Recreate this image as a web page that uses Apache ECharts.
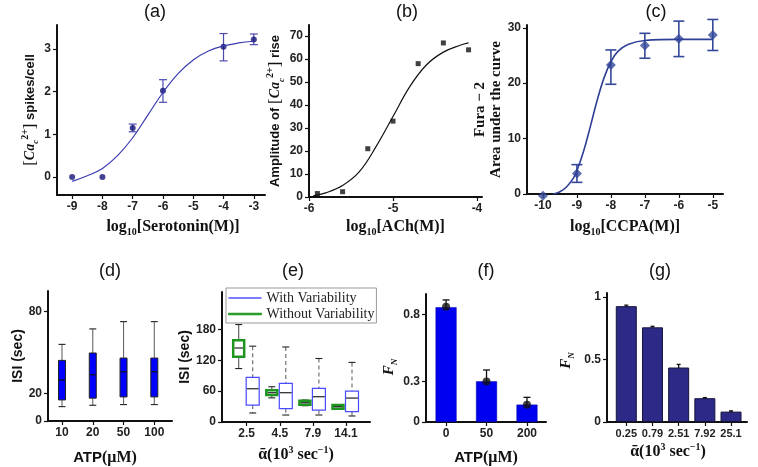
<!DOCTYPE html>
<html><head><meta charset="utf-8">
<script src="https://cdn.jsdelivr.net/npm/echarts@6/dist/echarts.min.js"></script>
<style>html,body{margin:0;padding:0;background:#fff}#c{width:758px;height:467px}</style>
</head><body><div id="c"></div>
<script>
// ---------------- data ----------------
const aX = [-9, -8, -7, -6, -4, -3];
const aY = [0, 0, 1.15, 2.02, 3.05, 3.22];
const aLo = [null, null, 1.06, 1.75, 2.72, 3.10];
const aHi = [null, null, 1.24, 2.28, 3.36, 3.35];
const aFitX = [-9, -8.5, -8, -7.5, -7, -6.5, -6, -5.5, -5, -4.5, -4, -3.5, -3];
const aFitY = [-0.1, 0.03, 0.2, 0.5, 0.92, 1.45, 1.98, 2.42, 2.74, 2.95, 3.07, 3.14, 3.18];
const aXTicks = [-9, -8, -7, -6, -5, -4, -3];
const aYTicks = [0, 1, 2, 3];

const bX = [-5.9, -5.6, -5.3, -5.0, -4.7, -4.4, -4.1];
const bY = [1.5, 2.3, 21, 33, 58, 67, 64];
const bFitX = [-5.95, -5.8, -5.6, -5.4, -5.2, -5.0, -4.8, -4.6, -4.4, -4.2, -4.1];
const bFitY = [0.5, 1.8, 5, 11, 22, 35, 48, 57.5, 63, 66, 67];
const bXTicks = [-6, -5, -4];
const bYTicks = [0, 10, 20, 30, 40, 50, 60, 70];

const cX = [-10, -9, -8, -7, -6, -5];
const cY = [-0.3, 3.7, 23.3, 26.8, 28, 28.7];
const cLo = [null, 2.1, 19.8, 24.5, 24.8, 25.9];
const cHi = [null, 5.3, 26.0, 29.0, 31.2, 31.5];
const cFitX = [-9.7, -9.5, -9.3, -9.1, -9.0, -8.8, -8.6, -8.4, -8.2, -8.0, -7.8, -7.5, -7.0, -6.0, -5.0];
const cFitY = [0, 0.4, 1.3, 2.9, 4.2, 7.8, 12.3, 17, 21, 23.9, 25.7, 27, 27.7, 27.9, 27.9];
const cXTicks = [-10, -9, -8, -7, -6, -5];
const cYTicks = [0, 10, 20, 30];

const dCats = ['10', '20', '50', '100'];
// [min, Q1, median, Q3, max]
const dBox = [[10.5, 15.4, 29.9, 44.3, 56], [11.5, 16.7, 33.8, 49.7, 67.3], [12, 17.6, 36, 46, 72.6], [12, 17.6, 36, 46, 72.6]];
const dYTicks = [0, 20, 80];

const eCats = ['2.5', '4.5', '7.9', '14.1'];
const eWith = [[17.5, 33, 64.7, 86.7, 147.6], [13.6, 26, 57, 75, 146], [13.6, 23.3, 49.2, 65.4, 123.6], [11.7, 20, 46.6, 60, 116]];
const eWithout = [[104, 127, 144, 159, 189.7], [47, 52.4, 57, 62, 68.6], [31.7, 33.7, 37.5, 41.4, 42.7], [24.6, 25.9, 29.8, 33, 33]];
const eYTicks = [0, 60, 120, 180];

const fCats = ['0', '50', '200'];
const fBar = [0.852, 0.302, 0.129];
const fMean = [0.855, 0.30, 0.128];
const fLo = [0.79, 0.218, 0.064];
const fHi = [0.906, 0.386, 0.183];
const fYTicks = [0, 0.3, 0.8];

const gCats = ['0.25', '0.79', '2.51', '7.92', '25.1'];
const gBar = [0.925, 0.756, 0.435, 0.19, 0.083];
const gLo = [0.917, 0.748, 0.41, 0.185, 0.077];
const gHi = [0.933, 0.764, 0.46, 0.195, 0.089];
const gYTicks = [0, 0.5, 1];

// ---------------- helpers ----------------
const idx = (arr) => arr.map((_, i) => i);
const pairs = (xs, ys) => xs.map((x, i) => [x, ys[i]]);
const errRows = (xs, lo, hi) => xs.map((x, i) => [x, lo[i], hi[i]]).filter(r => r[1] != null);
const boxRows = (rows) => rows.map((r, i) => [i].concat(r));

const tickFont = {fontFamily: 'Liberation Sans', fontWeight: 'bold', fontSize: 12, color: '#222'};
const SERIF = 'Liberation Serif';
const richBase = {
  n: {fontFamily: SERIF, fontWeight: 'bold', fontSize: 16, color: '#111', lineHeight: 20},
  sb: {fontFamily: SERIF, fontWeight: 'bold', fontSize: 10, color: '#111', lineHeight: 9, verticalAlign: 'bottom'},
  sp: {fontFamily: SERIF, fontWeight: 'bold', fontSize: 10, color: '#111', lineHeight: 9, verticalAlign: 'top'},
  t: {fontFamily: 'Liberation Sans', fontWeight: 'bold', fontSize: 13, color: '#111', lineHeight: 20},
  br: {fontFamily: SERIF, fontSize: 17, color: '#111', lineHeight: 20},
  ci: {fontFamily: SERIF, fontStyle: 'italic', fontWeight: 'bold', fontSize: 14, color: '#111', lineHeight: 20},
  cs: {fontFamily: SERIF, fontStyle: 'italic', fontWeight: 'bold', fontSize: 9, color: '#111', lineHeight: 8, verticalAlign: 'bottom'},
  fi: {fontFamily: SERIF, fontStyle: 'italic', fontWeight: 'bold', fontSize: 15, color: '#111', lineHeight: 20},
  fs: {fontFamily: SERIF, fontStyle: 'italic', fontWeight: 'bold', fontSize: 9, color: '#111', lineHeight: 8, verticalAlign: 'bottom'},
  a: {fontFamily: 'Liberation Sans', fontWeight: 'bold', fontSize: 15, color: '#111', lineHeight: 20},
  m: {fontFamily: SERIF, fontWeight: 'bold', fontSize: 16, color: '#111', lineHeight: 20}
};
const CA = '{br|[}{ci|Ca}{cs|c}{sp|2+}{br|]}';

function axis(o) {
  return {
    type: 'value', gridIndex: o.g, min: o.min, max: o.max,
    axisLine: {show: true, onZero: false, lineStyle: {color: '#111', width: 2}},
    axisTick: {show: true, length: 4, customValues: o.ticks, lineStyle: {color: '#111', width: 1.2}},
    axisLabel: Object.assign({customValues: o.ticks, margin: 6, formatter: o.fmt}, tickFont, o.font || {}),
    splitLine: {show: false},
    name: o.name, nameLocation: 'middle', nameGap: o.gap,
    nameTextStyle: Object.assign({rich: richBase}, o.nts || {})
  };
}
const catFmt = (cats) => (v) => cats[Math.round(v)];

function errRender(capW, color, lw) {
  return function (params, api) {
    const x = api.value(0);
    const lo = api.coord([x, api.value(1)]);
    const hi = api.coord([x, api.value(2)]);
    const cx = lo[0];
    const st = {stroke: color, lineWidth: lw};
    return {type: 'group', children: [
      {type: 'line', shape: {x1: cx, y1: lo[1], x2: cx, y2: hi[1]}, style: st},
      {type: 'line', shape: {x1: cx - capW / 2, y1: lo[1], x2: cx + capW / 2, y2: lo[1]}, style: st},
      {type: 'line', shape: {x1: cx - capW / 2, y1: hi[1], x2: cx + capW / 2, y2: hi[1]}, style: st}
    ]};
  };
}
function boxRender(offset, w, capW, s) {
  return function (params, api) {
    const x = api.value(0);
    const c = (d) => api.coord([x, api.value(d)]);
    const pMin = c(1), pQ1 = c(2), pMed = c(3), pQ3 = c(4), pMax = c(5);
    const cx = pMin[0] + offset;
    const ws = {stroke: s.whisker, lineWidth: 1.1, lineDash: s.dash || null};
    const cs = {stroke: s.cap, lineWidth: 1.1};
    return {type: 'group', children: [
      {type: 'line', shape: {x1: cx, y1: pMax[1], x2: cx, y2: pQ3[1]}, style: ws},
      {type: 'line', shape: {x1: cx, y1: pQ1[1], x2: cx, y2: pMin[1]}, style: ws},
      {type: 'line', shape: {x1: cx - capW / 2, y1: pMax[1], x2: cx + capW / 2, y2: pMax[1]}, style: cs},
      {type: 'line', shape: {x1: cx - capW / 2, y1: pMin[1], x2: cx + capW / 2, y2: pMin[1]}, style: cs},
      {type: 'rect', shape: {x: cx - w / 2, y: pQ3[1], width: w, height: pQ1[1] - pQ3[1]},
        style: {fill: s.fill, stroke: s.border, lineWidth: s.bw}},
      {type: 'line', shape: {x1: cx - w / 2 + s.bw / 2, y1: pMed[1], x2: cx + w / 2 - s.bw / 2, y2: pMed[1]},
        style: {stroke: s.median, lineWidth: 1.2}}
    ]};
  };
}

const titles = [['(a)', 155, 12], ['(b)', 407, 12], ['(c)', 656, 12], ['(d)', 110, 271], ['(e)', 293, 271], ['(f)', 486, 271], ['(g)', 660, 271]];

const option = {
  animation: false,
  backgroundColor: '#fff',
  graphic: titles.map(t => ({type: 'text', x: t[1], y: t[2],
    style: {text: t[0], font: '18px "Liberation Sans"', fill: '#111', align: 'center', verticalAlign: 'middle', textAlign: 'center', textVerticalAlign: 'middle'}})),
  grid: [
    {left: 57, top: 25, width: 208, height: 170, outerBoundsMode: 'none'},
    {left: 309, top: 25, width: 173, height: 172, outerBoundsMode: 'none'},
    {left: 527, top: 25, width: 196, height: 169, outerBoundsMode: 'none'},
    {left: 48, top: 291, width: 124, height: 130, outerBoundsMode: 'none'},
    {left: 222, top: 292, width: 148, height: 130, outerBoundsMode: 'none'},
    {left: 426, top: 294, width: 120, height: 128, outerBoundsMode: 'none'},
    {left: 607, top: 293, width: 140, height: 129, outerBoundsMode: 'none'}
  ],
  legend: {
    left: 226, top: 288, orient: 'vertical', itemWidth: 33, itemHeight: 1.5, itemGap: 2,
    padding: [3, 2, 2, 2], borderColor: '#999', borderWidth: 1, selectedMode: false,
    textStyle: {fontFamily: SERIF, fontSize: 14, color: '#222'},
    data: [
      {name: 'With Variability', icon: 'rect', itemStyle: {color: '#5050ff', borderWidth: 0}},
      {name: 'Without Variability', icon: 'rect', itemStyle: {color: '#1e961e', borderColor: '#1e961e', borderWidth: 1}}
    ]
  },
  xAxis: [
    axis({g: 0, min: -9.5, max: -2.63, ticks: aXTicks, name: '{n|log}{sb|10}{n|[Serotonin(M)]}', gap: 22, nts: {padding: [0, 0, 0, 24]}}),
    axis({g: 1, min: -6, max: -3.94, ticks: bXTicks, name: '{n|log}{sb|10}{n|[ACh(M)]}', gap: 20}),
    axis({g: 2, min: -10.47, max: -4.7, ticks: cXTicks, name: '{n|log}{sb|10}{n|[CCPA(M)]}', gap: 23}),
    axis({g: 3, min: -0.455, max: 3.575, ticks: idx(dCats), fmt: catFmt(dCats), name: '{a|ATP}{m|(μM)}', gap: 27, nts: {padding: [0, 10, 0, 0]}}),
    axis({g: 4, min: -0.746, max: 3.725, ticks: idx(eCats), fmt: catFmt(eCats), name: '{n|ᾱ(10}{sp|3}{n| sec}{sp|−1}{n|)}', gap: 23}),
    axis({g: 5, min: -0.496, max: 2.47, ticks: idx(fCats), fmt: catFmt(fCats), name: '{a|ATP}{m|(μM)}', gap: 26}),
    axis({g: 6, min: -0.737, max: 4.61, ticks: idx(gCats), fmt: catFmt(gCats), font: {fontSize: 11}, name: '{n|ᾱ(10}{sp|3}{n| sec}{sp|−1}{n|)}', gap: 20, nts: {padding: [0, 18, 0, 0]}})
  ],
  yAxis: [
    axis({g: 0, min: -0.42, max: 3.56, ticks: aYTicks, name: CA + '{t| spikes/cell}', gap: 14}),
    axis({g: 1, min: 0, max: 74.8, ticks: bYTicks, name: '{t|Amplitude of }' + CA + '{t| rise}', gap: 20}),
    axis({g: 2, min: 0, max: 30.5, ticks: cYTicks, name: 'Fura − 2\nArea under the curve', gap: 19,
      nts: {fontFamily: SERIF, fontWeight: 'bold', fontSize: 15, color: '#111', lineHeight: 16}}),
    axis({g: 3, min: 0, max: 95, ticks: dYTicks, name: 'ISI (sec)', gap: 23,
      nts: {fontFamily: 'Liberation Sans', fontWeight: 'bold', fontSize: 14, color: '#111'}}),
    axis({g: 4, min: 0, max: 253, ticks: eYTicks, name: 'ISI (sec)', gap: 28,
      nts: {fontFamily: 'Liberation Sans', fontWeight: 'bold', fontSize: 14, color: '#111'}}),
    axis({g: 5, min: 0, max: 0.95, ticks: fYTicks, name: '{fi|F}{fs|N}', gap: 24, nts: {padding: [0, 18, 0, 0]}}),
    axis({g: 6, min: 0, max: 1.03, ticks: gYTicks, name: '{fi|F}{fs|N}', gap: 31, nts: {padding: [0, 6, 0, 0]}})
  ],
  series: [
    // (a)
    {type: 'line', xAxisIndex: 0, yAxisIndex: 0, data: pairs(aFitX, aFitY), smooth: 0.4, showSymbol: false,
      lineStyle: {color: '#3b3bb0', width: 1.2}, silent: true},
    {type: 'custom', xAxisIndex: 0, yAxisIndex: 0, data: errRows(aX, aLo, aHi), encode: {x: 0, y: [1, 2]},
      renderItem: errRender(8, '#4a4ab0', 1.2)},
    {type: 'scatter', xAxisIndex: 0, yAxisIndex: 0, data: pairs(aX, aY), symbol: 'circle', symbolSize: 6, clip: false,
      itemStyle: {color: '#141478'}},
    // (b)
    {type: 'line', xAxisIndex: 1, yAxisIndex: 1, data: pairs(bFitX, bFitY), smooth: 0.4, showSymbol: false,
      lineStyle: {color: '#111', width: 1.2}, silent: true},
    {type: 'scatter', xAxisIndex: 1, yAxisIndex: 1, data: pairs(bX, bY), symbol: 'rect', symbolSize: 5, clip: false,
      itemStyle: {color: '#111'}},
    // (c)
    {type: 'line', xAxisIndex: 2, yAxisIndex: 2, data: pairs(cFitX, cFitY), smooth: 0.4, showSymbol: false,
      lineStyle: {color: '#2f3f95', width: 1.6}, silent: true},
    {type: 'custom', xAxisIndex: 2, yAxisIndex: 2, data: errRows(cX, cLo, cHi), encode: {x: 0, y: [1, 2]},
      renderItem: errRender(11, '#34499a', 1.6)},
    {type: 'scatter', xAxisIndex: 2, yAxisIndex: 2, data: pairs(cX, cY), symbol: 'diamond', symbolSize: 10, clip: false,
      itemStyle: {color: '#34499a'}},
    // (d)
    {type: 'custom', xAxisIndex: 3, yAxisIndex: 3, data: boxRows(dBox), encode: {x: 0, y: [1, 2, 3, 4, 5]},
      renderItem: boxRender(0, 7, 7, {fill: '#0000ff', border: '#222', bw: 1, whisker: '#666', cap: '#222', median: '#111'})},
    // (e)
    {type: 'custom', name: 'Without Variability', xAxisIndex: 4, yAxisIndex: 4, data: boxRows(eWithout), encode: {x: 0, y: [1, 2, 3, 4, 5]},
      itemStyle: {color: '#1e961e'},
      renderItem: boxRender(-8, 11, 7, {fill: '#fff', border: '#1e961e', bw: 2.5, whisker: '#555', cap: '#222', median: '#222'})},
    {type: 'custom', name: 'With Variability', xAxisIndex: 4, yAxisIndex: 4, data: boxRows(eWith), encode: {x: 0, y: [1, 2, 3, 4, 5]},
      itemStyle: {color: '#5050ff'},
      renderItem: boxRender(6, 13, 7, {fill: '#fff', border: '#4a4aff', bw: 1.2, whisker: '#666', dash: [4, 3], cap: '#222', median: '#222'})},
    // (f)
    {type: 'bar', xAxisIndex: 5, yAxisIndex: 5, data: pairs(idx(fCats), fBar), barWidth: 21,
      itemStyle: {color: '#0000f0', borderColor: '#0000a0', borderWidth: 0.5}},
    {type: 'custom', xAxisIndex: 5, yAxisIndex: 5, data: errRows(idx(fCats), fLo, fHi), encode: {x: 0, y: [1, 2]},
      renderItem: errRender(7, '#111', 1.3)},
    {type: 'scatter', xAxisIndex: 5, yAxisIndex: 5, data: pairs(idx(fCats), fMean), symbol: 'circle', symbolSize: 8,
      itemStyle: {color: '#111'}},
    // (g)
    {type: 'bar', xAxisIndex: 6, yAxisIndex: 6, data: pairs(idx(gCats), gBar), barWidth: 21,
      itemStyle: {color: '#2d2a87', borderColor: '#15143a', borderWidth: 1}},
    {type: 'custom', xAxisIndex: 6, yAxisIndex: 6, data: errRows(idx(gCats), gLo, gHi), encode: {x: 0, y: [1, 2]},
      renderItem: errRender(4, '#111', 1.3)}
  ]
};
const chart = echarts.init(document.getElementById('c'), null, {renderer: 'canvas'});
chart.setOption(option);
</script></body></html>
